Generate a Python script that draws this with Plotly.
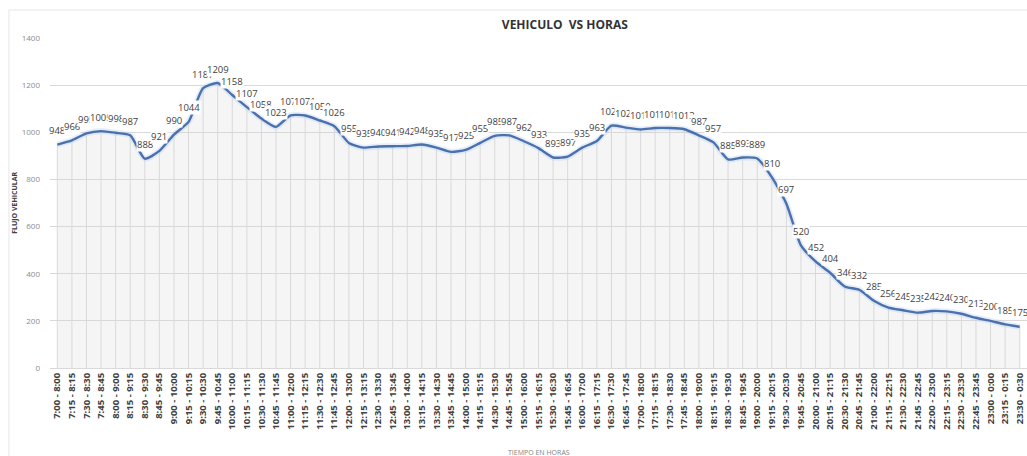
import plotly.graph_objects as go

# Intervalos horarios (cada 15 minutos, ventana de una hora)
intervalos = [
    "7:00 - 8:00", "7:15 - 8:15", "7:30 - 8:30", "7:45 - 8:45",
    "8:00 - 9:00", "8:15 - 9:15", "8:30 - 9:30", "8:45 - 9:45",
    "9:00 - 10:00", "9:15 - 10:15", "9:30 - 10:30", "9:45 - 10:45",
    "10:00 - 11:00", "10:15 - 11:15", "10:30 - 11:30", "10:45 - 11:45",
    "11:00 - 12:00", "11:15 - 12:15", "11:30 - 12:30", "11:45 - 12:45",
    "12:00 - 13:00", "12:15 - 13:15", "12:30 - 13:30", "12:45 - 13:45",
    "13:00 - 14:00", "13:15 - 14:15", "13:30 - 14:30", "13:45 - 14:45",
    "14:00 - 15:00", "14:15 - 15:15", "14:30 - 15:30", "14:45 - 15:45",
    "15:00 - 16:00", "15:15 - 16:15", "15:30 - 16:30", "15:45 - 16:45",
    "16:00 - 17:00", "16:15 - 17:15", "16:30 - 17:30", "16:45 - 17:45",
    "17:00 - 18:00", "17:15 - 18:15", "17:30 - 18:30", "17:45 - 18:45",
    "18:00 - 19:00", "18:15 - 19:15", "18:30 - 19:30", "18:45 - 19:45",
    "19:00 - 20:00", "19:15 - 20:15", "19:30 - 20:30", "19:45 - 20:45",
    "20:00 - 21:00", "20:15 - 21:15", "20:30 - 21:30", "20:45 - 21:45",
    "21:00 - 22:00", "21:15 - 22:15", "21:30 - 22:30", "21:45 - 22:45",
    "22:00 - 23:00", "22:15 - 23:15", "22:30 - 23:30", "22:45 - 23:45",
    "23:00 - 0:00", "23:15 - 0:15", "23:30 - 0:30",
]

# Flujo vehicular por intervalo
flujo = [
    948, 966, 995, 1005, 998, 987, 888, 921, 990, 1044,
    1187, 1209, 1158, 1107, 1058, 1023, 1072, 1071, 1050, 1026,
    955, 935, 940, 941, 942, 948, 935, 917, 925, 955,
    985, 987, 962, 933, 893, 897, 935, 963, 1028, 1020,
    1012, 1018, 1018, 1013, 987, 957, 885, 893, 889, 810,
    697, 520, 452, 404, 346, 332, 285, 256, 245, 235,
    242, 240, 230, 213, 200, 185, 175,
]

eje_y_ticks = [0, 200, 400, 600, 800, 1000, 1200, 1400]

LINEA = "#4a70ad"
TEXTO = "#404040"

fig = go.Figure()

# Lineas verticales de cada punto hasta el eje
drop_x, drop_y = [], []
for cat, val in zip(intervalos, flujo):
    drop_x += [cat, cat, None]
    drop_y += [0, val, None]

# Area bajo la curva
fig.add_trace(go.Scatter(
    x=intervalos, y=flujo, mode="lines",
    line=dict(width=0, shape="spline", smoothing=0.6),
    fill="tozeroy", fillcolor="rgba(215,215,215,0.25)",
    hoverinfo="skip", showlegend=False,
))
fig.add_trace(go.Scatter(
    x=drop_x, y=drop_y, mode="lines",
    line=dict(color="#d9d9d9", width=1),
    hoverinfo="skip", showlegend=False,
))
# Halo suave alrededor de la serie
fig.add_trace(go.Scatter(
    x=intervalos, y=flujo, mode="lines",
    line=dict(color="rgba(180,205,238,0.35)", width=6, shape="spline", smoothing=0.6),
    hoverinfo="skip", showlegend=False,
))
fig.add_trace(go.Scatter(
    x=intervalos, y=flujo, mode="lines",
    line=dict(color=LINEA, width=2.4, shape="spline", smoothing=0.6),
    name="Flujo", showlegend=False,
))

# Etiquetas de datos sobre cada punto
for cat, val in zip(intervalos, flujo):
    fig.add_annotation(
        x=cat, y=val, text=str(val), showarrow=False, yshift=14,
        font=dict(family="Open Sans", size=9.5, color=TEXTO),
        bgcolor="white", borderpad=0,
    )

fig.update_layout(
    width=1027, height=456,
    margin=dict(l=50, r=0, t=38, b=88),
    paper_bgcolor="white", plot_bgcolor="white",
    title=dict(
        text="<b>VEHICULO  VS HORAS</b>",
        x=0.55, xanchor="center", y=0.945, yanchor="middle",
        font=dict(family="Open Sans", size=12, color="#333333"),
    ),
    xaxis=dict(
        type="category", range=[-0.5, len(intervalos) - 0.5],
        showgrid=False, tickangle=-90, ticks="",
        tickfont=dict(family="Open Sans", size=9.5, color=TEXTO, weight="bold"),
        showline=True, linecolor="#d9d9d9", linewidth=1,
    ),
    yaxis=dict(
        range=[0, 1400], tickvals=eje_y_ticks,
        showgrid=True, gridcolor="#d9d9d9", gridwidth=1,
        zeroline=False, ticks="", ticklabelstandoff=9,
        tickfont=dict(family="Open Sans", size=8, color="#8c8c8c"),
    ),
    shapes=[dict(
        type="rect", xref="paper", yref="paper",
        x0=-0.042, x1=1.01, y0=-0.35, y1=1.085,
        line=dict(color="#e6e6e6", width=1), layer="below",
    )],
)

# Titulos de los ejes
fig.add_annotation(
    text="<b>FLUJO VEHICULAR</b>", textangle=-90, showarrow=False,
    xref="paper", yref="paper", x=-0.037, y=0.5,
    xanchor="center", yanchor="middle",
    font=dict(family="Open Sans", size=7, color=TEXTO),
)
fig.add_annotation(
    text="TIEMPO EN HORAS", showarrow=False,
    xref="paper", yref="paper", x=0.5, y=-0.255,
    xanchor="center", yanchor="middle",
    font=dict(family="Open Sans", size=7, color="#7f7f7f"),
)

fig.write_html("out.html")
